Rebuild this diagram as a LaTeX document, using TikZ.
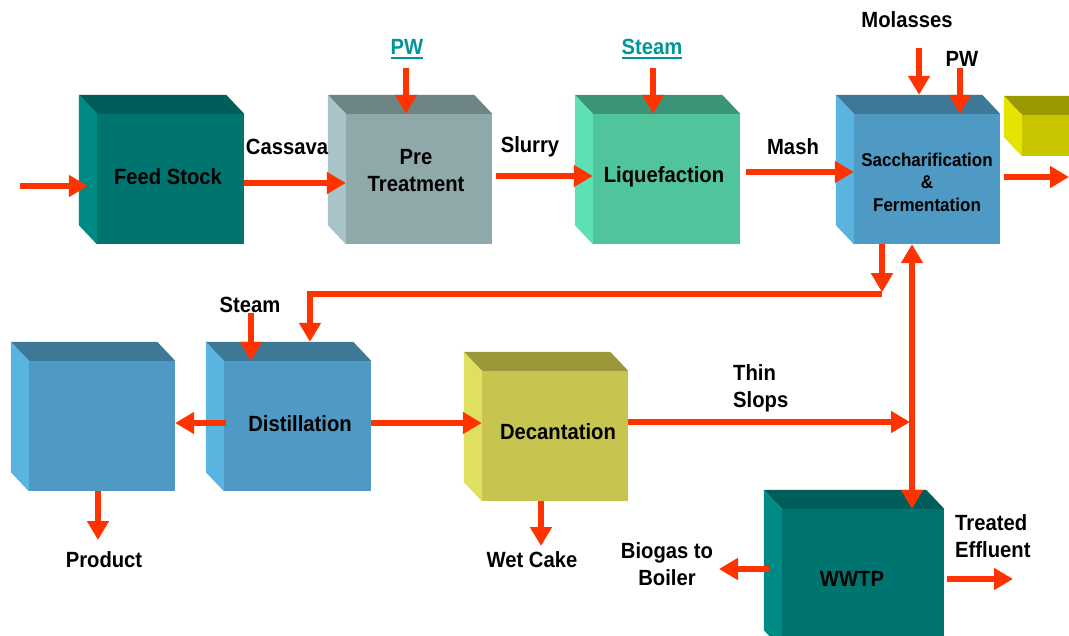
\documentclass[tikz,border=0pt]{standalone}
\usepackage{fontspec}
\setmainfont{Liberation Sans}[FakeStretch=0.92]
\usetikzlibrary{arrows.meta,calc}
\definecolor{flowred}{RGB}{255,51,0}
\definecolor{tealtxt}{RGB}{0,150,150}
\definecolor{fsF}{RGB}{0,117,112}
\definecolor{fsT}{RGB}{0,94,90}
\definecolor{fsL}{RGB}{0,138,133}
\definecolor{ptF}{RGB}{143,168,170}
\definecolor{ptT}{RGB}{110,133,133}
\definecolor{ptL}{RGB}{168,196,200}
\definecolor{lqF}{RGB}{80,196,154}
\definecolor{lqT}{RGB}{58,148,120}
\definecolor{lqL}{RGB}{93,224,180}
\definecolor{blF}{RGB}{78,154,196}
\definecolor{blT}{RGB}{61,120,150}
\definecolor{blL}{RGB}{90,180,224}
\definecolor{dcF}{RGB}{200,196,80}
\definecolor{dcT}{RGB}{154,152,56}
\definecolor{dcL}{RGB}{224,224,96}
\definecolor{ylF}{RGB}{200,196,0}
\definecolor{ylT}{RGB}{154,154,0}
\definecolor{ylL}{RGB}{228,228,0}
\newcommand\tul[1]{\setbox0\hbox{#1}\rlap{\rule[-4pt]{\wd0}{2pt}}\box0}
\newcommand\cubefaces[3]{%
  \fill[#2] (#1.north west) -- ++(-18,-19) -- ([shift={(-18,-19)}]#1.north east) -- (#1.north east) -- cycle;
  \fill[#3] (#1.north west) -- ++(-18,-19) -- ([shift={(-18,-19)}]#1.south west) -- (#1.south west) -- cycle;}
\tikzset{
  box/.style={rectangle, inner sep=0pt, minimum width=146pt, minimum height=130pt},
  lab/.style={font=\fontsize{22}{27}\selectfont\bfseries, align=center, inner sep=0pt},
  flow/.style={draw=flowred, line width=6pt, -{Triangle[width=21pt,length=19pt]}},
  flowline/.style={draw=flowred, line width=6pt}
}
\begin{document}
\begin{tikzpicture}[x=1pt,y=-1pt]
\clip (0,0) rectangle (1069,636);
% boxes
\node[box, fill=fsF, minimum width=147pt] (feed) at (170.5,179) {};
\cubefaces{feed}{fsT}{fsL}
\node[box, fill=ptF] (pre) at (419,179) {};
\cubefaces{pre}{ptT}{ptL}
\node[box, fill=lqF, minimum width=147pt] (liq) at (666.5,179) {};
\cubefaces{liq}{lqT}{lqL}
\node[box, fill=blF] (sac) at (927,179) {};
\cubefaces{sac}{blT}{blL}
\node[box, fill=ylF, minimum width=148pt, minimum height=41pt] (yel) at (1096,135.5) {};
\cubefaces{yel}{ylT}{ylL}
\node[box, fill=blF] (lbox) at (102,426) {};
\cubefaces{lbox}{blT}{blL}
\node[box, fill=blF, minimum width=147pt] (dist) at (297.5,426) {};
\cubefaces{dist}{blT}{blL}
\node[box, fill=dcF] (dec) at (555,436) {};
\cubefaces{dec}{dcT}{dcL}
\node[box, fill=fsF, minimum width=162pt, minimum height=140pt] (wwtp) at (863,579) {};
\cubefaces{wwtp}{fsT}{fsL}
% box texts
\node[lab] (tfeed) at (168,177) {Feed Stock};
\node[lab] (tpre) at (416,171) {Pre\\Treatment};
\node[lab] (tliq) at (664,177) {Liquefaction};
\node[lab, font=\fontsize{18.5}{22.5}\selectfont\bfseries] (tsac) at (927,182) {Saccharification\\\&\\Fermentation};
\node[lab] (tdist) at (300,424) {Distillation};
\node[lab] (tdec) at (558,432) {Decantation};
\node[lab] (twwtp) at (852,579) {WWTP};
% labels
\node[lab] (lcas) at (287,147) {Cassava};
\node[lab] (lslu) at (530,147) {Slurry};
\node[lab] (lmash) at (793,147) {Mash};
\node[lab, text=tealtxt] (lpw1) at (407,49) {\tul{PW}};
\node[lab, text=tealtxt] (lst1) at (652,49) {\tul{Steam}};
\node[lab] (lmol) at (907,20) {Molasses};
\node[lab] (lpw2) at (962,59) {PW};
\node[lab] (lst2) at (250,305) {Steam};
\node[lab] (lprod) at (104,560) {Product};
\node[lab, align=left, anchor=west] (lthin) at (733,388) {Thin\\Slops};
\node[lab] (lwet) at (532,560) {Wet Cake};
\node[lab] (lbio) at (667,564) {Biogas to\\Boiler};
\node[lab, align=left, anchor=west] (ltre) at (955,536) {Treated\\Effluent};
% coordinates
\coordinate (in) at (20,186);
\coordinate (out) at (1069,177);
\coordinate (pwin) at (406,68);
\coordinate (stin) at (653,68);
\coordinate (molin) at (919,48);
\coordinate (pw2in) at (960,68);
\coordinate (st2in) at (251,313);
\coordinate (junc) at (912,422);
\coordinate (prod) at (98,540);
\coordinate (wet) at (541,546);
\coordinate (bio) at (719,569);
\coordinate (tre) at (1013,579);
% connectors
\draw[flow] (in) -- ([xshift=-9pt]feed.west |- in);
\draw[flow] (feed.east |- 0,183) -- (pre.west |- 0,183);
\draw[flow] (pwin) -- (pwin |- pre.north);
\draw[flow] ([xshift=4pt]pre.east |- 0,176) -- (liq.west |- 0,176);
\draw[flow] (stin) -- (stin |- liq.north);
\draw[flow] ([xshift=6pt]liq.east |- 0,172) -- (sac.west |- 0,172);
\draw[flow] (molin) -- ([yshift=19pt]sac.north -| molin);
\draw[flow] (pw2in) -- (pw2in |- sac.north);
\draw[flow] ([xshift=4pt]sac.east |- out) -- (out);
\draw[flow] ([xshift=-45pt]sac.south) -- ++(0,48);
\draw[flowline, -{Triangle[width=21pt,length=19pt]}] ([xshift=-45pt,yshift=-50pt]sac.south) -| ([yshift=19pt]dist.north -| 310,0);
\draw[flow, {Triangle[width=21pt,length=19pt]}-{Triangle[width=21pt,length=19pt]}] ([xshift=-15pt]sac.south) -- (wwtp.north -| 912,0);
\draw[flow] (st2in) -- (st2in |- dist.north);
\draw[flow] ([xshift=2pt]dist.west |- 0,423) -- (lbox.east |- 0,423);
\draw[flow] (lbox.south -| prod) -- (prod);
\draw[flow] (dist.east |- 0,423) -- (dec.west |- 0,423);
\draw[flow] (dec.east |- junc) -- ([xshift=-2pt]junc);
\draw[flow] (dec.south -| wet) -- (wet);
\draw[flow] ([xshift=-13pt]wwtp.west |- bio) -- (bio);
\draw[flow] ([xshift=3pt]wwtp.east |- tre) -- (tre);
\end{tikzpicture}
\end{document}
